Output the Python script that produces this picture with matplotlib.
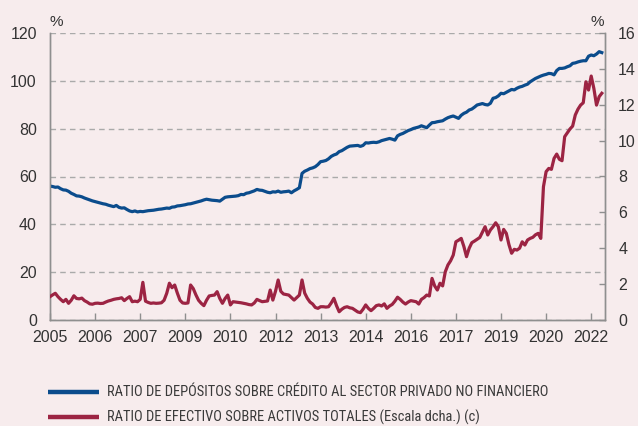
import matplotlib
matplotlib.use("Agg")
import matplotlib.pyplot as plt
import numpy as np
from matplotlib import font_manager
from matplotlib.lines import Line2D
from matplotlib.font_manager import FontProperties

# ---------------- data ----------------
start_year = 2005
tick_labels = ["2005", "2006", "2007", "2009", "2010", "2012", "2013",
               "2014", "2016", "2017", "2019", "2020", "2022"]
tick_step_months = 17

depositos_credito = [
    56.0, 55.8, 55.5, 55.6, 54.9, 54.4, 54.3, 53.8, 53.0, 52.5,
    51.9, 51.8, 51.5, 51.0, 50.6, 50.2, 49.8, 49.5, 49.2, 48.9,
    48.6, 48.4, 48.0, 47.7, 47.4, 47.9, 47.1, 46.8, 46.9, 46.2,
    45.6, 45.3, 45.6, 45.2, 45.4, 45.3, 45.5, 45.7, 45.8, 45.9,
    46.1, 46.3, 46.4, 46.6, 46.8, 46.7, 47.2, 47.3, 47.7, 47.8,
    48.0, 48.2, 48.5, 48.6, 48.9, 49.2, 49.5, 49.8, 50.2, 50.5,
    50.3, 50.1, 50.0, 49.9, 49.7, 50.5, 51.3, 51.5, 51.6, 51.7,
    51.8, 52.0, 52.5, 52.4, 53.0, 53.2, 53.6, 54.0, 54.6, 54.3,
    54.2, 53.8, 53.4, 53.2, 53.6, 53.5, 53.9, 53.4, 53.6, 53.7,
    53.9, 53.2, 54.0, 54.6, 55.3, 61.3, 62.2, 62.7, 63.3, 63.6,
    64.1, 65.0, 66.2, 66.4, 66.7, 67.4, 68.4, 69.0, 69.4, 70.4,
    70.8, 71.5, 72.2, 72.7, 72.8, 72.9, 73.0, 72.6, 73.0, 74.1,
    74.0, 74.2, 74.3, 74.2, 74.5, 75.0, 75.3, 75.6, 75.9, 75.6,
    75.2, 77.0, 77.6, 78.0, 78.6, 79.2, 79.6, 80.1, 80.4, 80.7,
    81.2, 80.8, 80.4, 81.5, 82.5, 82.6, 82.9, 83.1, 83.3, 84.0,
    84.6, 85.0, 85.3, 84.8, 84.3, 85.6, 86.4, 86.9, 87.8, 88.2,
    89.0, 89.9, 90.2, 90.5, 90.1, 89.9, 90.6, 92.7, 93.0, 93.7,
    94.8, 94.6, 95.2, 95.8, 96.4, 96.2, 96.9, 97.4, 97.7, 98.2,
    98.6, 99.6, 100.3, 101.0, 101.5, 102.0, 102.4, 102.7, 103.1, 103.0,
    102.5, 104.3, 105.2, 105.2, 105.4, 105.9, 106.3, 107.3, 107.5, 107.9,
    108.2, 108.4, 108.4, 110.3, 110.8, 110.5, 111.2, 112.2, 111.8,
]

efectivo_activos = [
    1.30, 1.40, 1.49, 1.30, 1.15, 1.02, 1.15, 0.93, 1.10, 1.35,
    1.20, 1.18, 1.22, 1.08, 1.00, 0.90, 0.88, 0.93, 0.94, 0.92,
    0.93, 1.00, 1.06, 1.10, 1.15, 1.18, 1.20, 1.24, 1.08, 1.20,
    1.30, 1.02, 1.05, 1.02, 1.15, 2.10, 1.05, 0.98, 0.93, 0.95,
    0.93, 0.94, 0.96, 1.10, 1.49, 2.05, 1.80, 1.95, 1.50, 1.10,
    0.95, 0.93, 0.95, 1.95, 1.75, 1.40, 1.10, 0.93, 0.80, 1.10,
    1.34, 1.37, 1.39, 1.58, 1.20, 0.93, 1.20, 1.39, 0.84, 1.02,
    1.00, 0.98, 0.96, 0.93, 0.90, 0.86, 0.84, 0.95, 1.15, 1.08,
    1.02, 1.04, 1.06, 1.67, 1.11, 1.60, 2.23, 1.60, 1.45, 1.42,
    1.39, 1.25, 1.11, 1.25, 1.39, 2.23, 1.50, 1.21, 1.00, 0.89,
    0.70, 0.65, 0.74, 0.74, 0.72, 0.74, 0.95, 1.21, 0.80, 0.46,
    0.60, 0.70, 0.74, 0.68, 0.65, 0.55, 0.45, 0.41, 0.60, 0.84,
    0.65, 0.52, 0.65, 0.80, 0.84, 0.78, 0.90, 0.65, 0.78, 0.87,
    1.05, 1.27, 1.15, 1.00, 0.89, 1.00, 1.08, 1.05, 1.02, 0.89,
    1.15, 1.25, 1.39, 1.34, 2.32, 1.90, 1.67, 2.05, 1.90, 2.69,
    3.07, 3.30, 3.62, 4.36, 4.45, 4.55, 4.10, 3.53, 4.00, 4.31,
    4.40, 4.50, 4.60, 4.90, 5.20, 4.74, 5.02, 5.20, 5.42, 5.20,
    4.46, 5.05, 4.83, 4.20, 3.72, 3.94, 3.90, 4.00, 4.36, 4.18,
    4.46, 4.55, 4.61, 4.75, 4.83, 4.55, 7.43, 8.27, 8.45, 8.40,
    9.01, 9.25, 8.96, 8.88, 10.22, 10.44, 10.65, 10.81, 11.43, 11.75,
    11.98, 12.11, 13.28, 12.82, 13.60, 12.91, 11.98, 12.45, 12.64,
]

label_dep = "RATIO DE DEPÓSITOS SOBRE CRÉDITO AL SECTOR PRIVADO NO FINANCIERO"
label_efe = "RATIO DE EFECTIVO SOBRE ACTIVOS TOTALES (Escala dcha.) (c)"

left_ticks = [0, 20, 40, 60, 80, 100, 120]
right_ticks = [0, 2, 4, 6, 8, 10, 12, 14, 16]

# ---------------- style ----------------
BG = "#F7ECED"
BLUE = "#0B4C8C"
RED = "#9C2443"
AXC = "#8F8F8F"
TXT = "#333333"
W, H = 638, 426

fm = font_manager.fontManager
names = {f.name for f in fm.ttflist}
base_font = "Liberation Sans" if "Liberation Sans" in names else "DejaVu Sans"
plt.rcParams["font.family"] = [base_font, "DejaVu Sans"]


def is_regular(f):
    return f.style == "normal" and f.weight in (400, "normal", "regular", "book")


# legend font: prefer a narrow Helvetica-like face if one is installed
leg_prop = None
name_prefs = ["Liberation Sans Narrow", "Roboto Condensed", "Open Sans Condensed",
              "Noto Sans Condensed", "Arial Narrow", "Nimbus Sans Narrow"]
for nm in name_prefs:
    for f in fm.ttflist:
        if f.name == nm and is_regular(f):
            leg_prop = FontProperties(fname=f.fname)
            break
    if leg_prop is not None:
        break
if leg_prop is None:
    for fam in ["Roboto", "Noto Sans", "Open Sans", "Liberation Sans", "DejaVu Sans"]:
        for f in fm.ttflist:
            if f.name == fam and f.stretch == "condensed" and is_regular(f):
                leg_prop = FontProperties(fname=f.fname)
                break
        if leg_prop is not None:
            break
if leg_prop is None:
    for f in fm.ttflist:
        if ("Condensed" in f.name or "Narrow" in f.name or f.stretch == "condensed") and is_regular(f):
            leg_prop = FontProperties(fname=f.fname)
            break
if leg_prop is None:
    leg_prop = FontProperties(family=base_font)

fig = plt.figure(figsize=(W / 100, H / 100), dpi=100, facecolor=BG)
ax = fig.add_axes([50 / W, 1 - 320 / H, 555 / W, 287 / H])
ax.set_facecolor(BG)
ax2 = ax.twinx()

x_dep = np.arange(len(depositos_credito))
x_efe = np.arange(len(efectivo_activos))

l1, = ax.plot(x_dep, depositos_credito, color=BLUE, lw=2.3, solid_joinstyle="round", zorder=3)
l2, = ax2.plot(x_efe, efectivo_activos, color=RED, lw=2.3, solid_joinstyle="round", zorder=3)

ax.set_xlim(0, 209.2)
ax.set_ylim(0, 120)
ax2.set_ylim(0, 16)

xt = [i * tick_step_months for i in range(len(tick_labels))]
ax.set_xticks(xt)
ax.set_xticklabels(tick_labels)
ax.set_yticks(left_ticks)
ax2.set_yticks(right_ticks)

ax.yaxis.grid(True, linestyle=(0, (4, 3)), color="#AAAAAA", lw=1.0, zorder=0)
ax.set_axisbelow(True)

for a in (ax, ax2):
    a.spines["top"].set_visible(False)
    for s in ("left", "right", "bottom"):
        a.spines[s].set_color(AXC)
        a.spines[s].set_linewidth(1.0)

ax.tick_params(axis="x", direction="in", length=5, width=1, color=AXC,
               labelsize=11.5, labelcolor=TXT, pad=7)
ax.tick_params(axis="y", length=0, labelsize=11.5, labelcolor=TXT, pad=9.5)
ax2.tick_params(axis="y", direction="in", length=4, width=1, color=AXC,
                labelsize=11.5, labelcolor=TXT, pad=9.5)

fig.text(49 / W, 1 - 22 / H, "%", ha="left", va="center", fontsize=11, color=TXT)
fig.text(604 / W, 1 - 22 / H, "%", ha="right", va="center", fontsize=11, color=TXT)

# ---- legend (below the plot) ----
rows = [(l1, label_dep, 392), (l2, label_efe, 417)]
texts = []
for line, lab, ypx in rows:
    fig.add_artist(Line2D([48 / W, 99 / W], [1 - ypx / H, 1 - ypx / H],
                          transform=fig.transFigure, color=line.get_color(), lw=3.2,
                          solid_capstyle="butt"))
    t = fig.text(107 / W, 1 - ypx / H, lab, ha="left", va="center",
                 fontproperties=leg_prop, fontsize=12, color="#3A3A3A")
    texts.append(t)

# scale the legend font so the first label spans the reference width (~443 px)
fig.canvas.draw()
r = fig.canvas.get_renderer()
w0 = texts[0].get_window_extent(r).width
size = min(12.5, 12 * 443 / w0)
for t in texts:
    t.set_fontsize(size)

fig.savefig("out.png", dpi=100, facecolor=BG)
